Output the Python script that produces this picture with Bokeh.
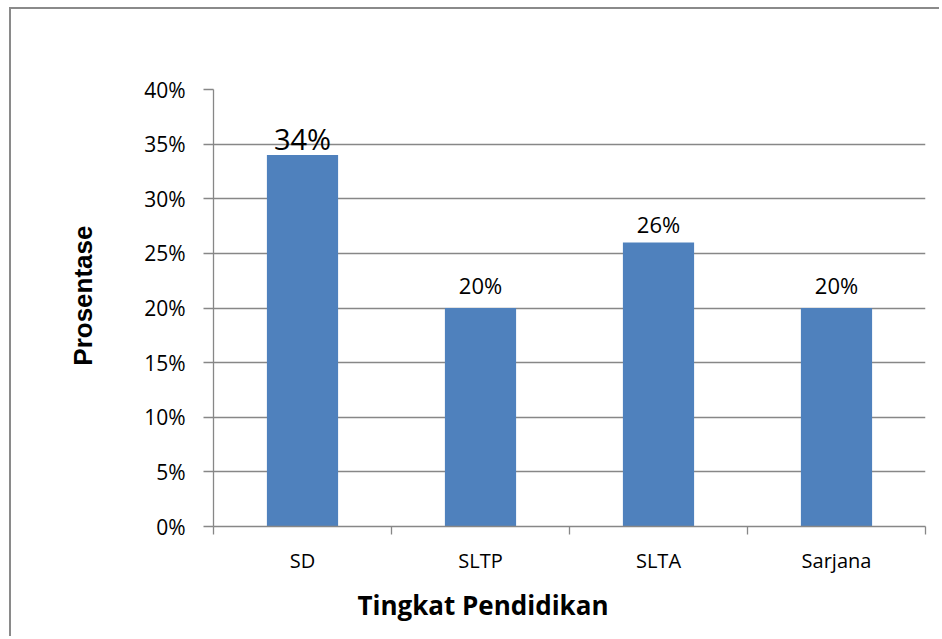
import math
from bokeh.plotting import figure
from bokeh.models import Range1d, FixedTicker, ColumnDataSource, LabelSet, Title
from bokeh.core.properties import value, field
from bokeh.embed import file_html
from bokeh.resources import INLINE

# ---- data ----
categories = ["SD", "SLTP", "SLTA", "Sarjana"]
values = [34, 20, 26, 20]
value_labels = ["34%", "20%", "26%", "20%"]
y_ticks = [0, 5, 10, 15, 20, 25, 30, 35, 40]
y_tick_labels = ["0%", "5%", "10%", "15%", "20%", "25%", "30%", "35%", "40%"]
x_title = "Tingkat Pendidikan"
y_title = "Prosentase"

# ---- style ----
BAR = "#4F81BD"
GRID = "#878787"
label_sizes = ["29px", "22px", "22px", "22px"]
label_offsets = [17, 23, 18, 23]

xpos = [i + 0.5 for i in range(len(categories))]
bounds = list(range(len(categories) + 1))

src = ColumnDataSource(dict(x=xpos, top=values, label=value_labels,
                            size=label_sizes, dy=label_offsets))

p = figure(width=930, height=629,
           x_range=Range1d(0, len(categories)), y_range=Range1d(0, 40),
           output_backend="svg", toolbar_location=None,
           min_border_left=202, min_border_right=16,
           min_border_top=80, min_border_bottom=112)
p.styles = {"border-left": "2px solid #8a8a8a", "border-top": "2px solid #8a8a8a",
            "margin-left": "9px", "margin-top": "7px"}
p.outline_line_color = None
p.background_fill_color = "white"
p.border_fill_color = "white"

p.vbar(x="x", top="top", bottom=0, width=0.4, source=src,
       fill_color=BAR, line_color=None)

p.xgrid.visible = False
p.ygrid.ticker = FixedTicker(ticks=y_ticks)
p.ygrid.grid_line_color = GRID
p.ygrid.grid_line_width = 1.3

# y axis
ya = p.yaxis[0]
ya.ticker = FixedTicker(ticks=y_ticks)
ya.major_label_overrides = dict(zip(y_ticks, y_tick_labels))
ya.axis_line_color = GRID
ya.axis_line_width = 1.3
ya.major_tick_line_color = GRID
ya.major_tick_line_width = 1.3
ya.major_tick_in = 0
ya.major_tick_out = 10
ya.minor_tick_line_color = None
ya.major_label_standoff = 18
ya.major_label_text_font = "Open Sans"
ya.major_label_text_font_size = "21px"
ya.major_label_text_color = "#000000"

# x axis
xa = p.xaxis[0]
xa.ticker = FixedTicker(ticks=xpos, minor_ticks=bounds)
xa.major_label_overrides = dict(zip(xpos, categories))
xa.axis_line_color = GRID
xa.axis_line_width = 1.3
xa.major_tick_line_color = None
xa.major_tick_in = 0
xa.major_tick_out = 0
xa.minor_tick_line_color = GRID
xa.minor_tick_line_width = 1.3
xa.minor_tick_in = 0
xa.minor_tick_out = 8
xa.major_label_standoff = 12
xa.major_label_text_font = "Open Sans"
xa.major_label_text_font_size = "20px"
xa.major_label_text_color = "#000000"

labels = LabelSet(x="x", y="top", text="label", source=src, y_offset=field("dy"),
                  text_align="center", text_baseline="middle",
                  text_font=value("Open Sans"), text_font_size=field("size"),
                  text_color="#000000")
p.add_layout(labels)

p.add_layout(Title(text=x_title, align="right", offset=317, standoff=16,
                   text_font="Open Sans", text_font_style="bold",
                   text_font_size="26px", text_color="#000000"), "below")
p.add_layout(Title(text=y_title, align="right", offset=136, standoff=88,
                   text_font="Liberation Sans", text_font_style="bold",
                   text_font_size="26px", text_color="#000000"), "left")

open("out.html", "w").write(file_html(p, INLINE))
